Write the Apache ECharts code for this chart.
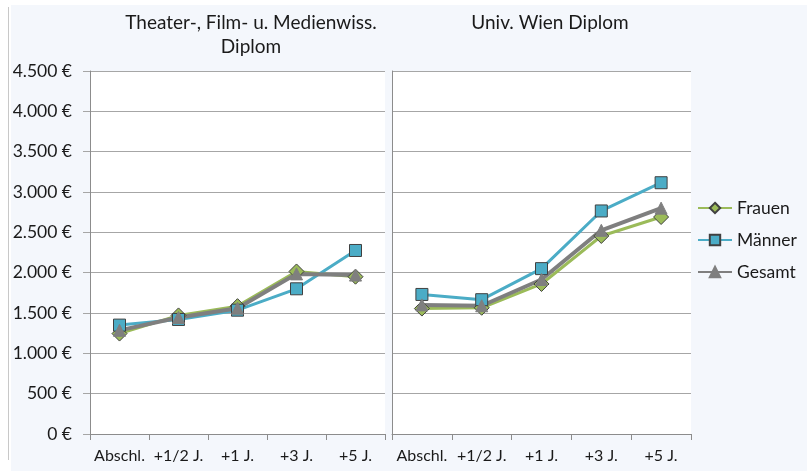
<!DOCTYPE html>
<html>
<head>
<meta charset="utf-8">
<script src="https://cdn.jsdelivr.net/npm/echarts@6/dist/echarts.min.js"></script>
<style>
  html, body { margin: 0; padding: 0; background: #ffffff; }
  #wrap { position: relative; width: 807px; height: 471px; overflow: hidden; }
  #bg { position: absolute; left: 11px; top: 5px; right: 0; bottom: 0; background: #F4F7FC; }
  #edge { position: absolute; left: 8px; top: 7px; width: 1px; height: 453px; background: #C8C8C8; }
  #chart { position: absolute; left: 0; top: 0; width: 807px; height: 471px; }
</style>
</head>
<body>
<div id="wrap">
  <div id="bg"></div>
  <div id="edge"></div>
  <div id="chart"></div>
</div>
<script>
const categories = ['Abschl.', '+1/2 J.', '+1 J.', '+3 J.', '+5 J.'];
const panelTitles = ['Theater-, Film- u. Medienwiss.\nDiplom', 'Univ. Wien Diplom'];
const seriesNames = ['Frauen', 'Männer', 'Gesamt'];

// Theater-, Film- u. Medienwiss. Diplom
const frauenTFM = [1245, 1470, 1585, 2015, 1950];
const maennerTFM = [1350, 1420, 1535, 1800, 2275];
const gesamtTFM = [1285, 1445, 1560, 1985, 1970];

// Univ. Wien Diplom
const frauenUW = [1555, 1565, 1860, 2455, 2690];
const maennerUW = [1730, 1665, 2050, 2765, 3115];
const gesamtUW = [1600, 1590, 1915, 2525, 2800];

const yMin = 0, yMax = 4500, yStep = 500;

const FONT = 'Lato, "Open Sans", sans-serif';
const TXT = '#1a1a1a';
const GRIDC = '#A6A6A6';
const AXC = '#8C8C8C';

function euro(v) {
  if (v >= 1000) {
    return Math.floor(v / 1000) + '.' + String(v % 1000).padStart(3, '0') + ' €';
  }
  return v + ' €';
}

const styles = {
  'Frauen': { color: '#9BBB59', symbol: 'diamond', size: 15, width: 3, border: '#404040' },
  'Männer': { color: '#4BACC6', symbol: 'rect', size: 12, width: 3, border: '#404040' },
  'Gesamt': { color: '#7F7F7F', symbol: 'triangle', size: 12, width: 4, border: '#7F7F7F' }
};

function mkSeries(name, data, idx) {
  const s = styles[name];
  return {
    name: name,
    type: 'line',
    xAxisIndex: idx,
    yAxisIndex: idx,
    data: data,
    symbol: s.symbol,
    symbolSize: s.size,
    lineStyle: { color: s.color, width: s.width },
    itemStyle: { color: s.color, borderColor: s.border, borderWidth: 1 },
    emphasis: { disabled: true },
    animation: false
  };
}

const chart = echarts.init(document.getElementById('chart'), null, { renderer: 'canvas' });

const xAxisBase = {
  type: 'category',
  data: categories,
  boundaryGap: true,
  axisLine: { show: true, lineStyle: { color: AXC, width: 1 } },
  axisTick: { show: true, length: 6, alignWithLabel: false, lineStyle: { color: AXC } },
  axisLabel: { color: TXT, fontFamily: FONT, fontSize: 16, margin: 14, interval: 0, hideOverlap: false },
  splitLine: { show: false }
};

const titleStyle = { fontFamily: FONT, fontSize: 19, fontWeight: 'normal', color: TXT, lineHeight: 24 };

const option = {
  backgroundColor: 'transparent',
  animation: false,
  title: [
    { text: panelTitles[0], left: 251, top: 11, padding: 0, textAlign: 'center', textStyle: titleStyle },
    { text: panelTitles[1], left: 550, top: 11, padding: 0, textAlign: 'center', textStyle: titleStyle }
  ],
  legend: {
    data: seriesNames,
    orient: 'vertical',
    left: 697,
    top: 199,
    padding: 0,
    itemWidth: 34,
    itemHeight: 13,
    itemGap: 14,
    textStyle: { fontFamily: FONT, fontSize: 17.5, color: TXT },
    selectedMode: false
  },
  grid: [
    { left: 90, top: 71, width: 295, height: 363, show: true, backgroundColor: '#ffffff', borderWidth: 0 },
    { left: 392, top: 71, width: 299, height: 363, show: true, backgroundColor: '#ffffff', borderWidth: 0 }
  ],
  xAxis: [
    Object.assign({}, xAxisBase, { gridIndex: 0 }),
    Object.assign({}, xAxisBase, { gridIndex: 1 })
  ],
  yAxis: [
    {
      gridIndex: 0, type: 'value', min: yMin, max: yMax, interval: yStep,
      axisLine: { show: true, lineStyle: { color: AXC, width: 1 } },
      axisTick: { show: true, length: 7, lineStyle: { color: GRIDC } },
      axisLabel: { color: TXT, fontFamily: FONT, fontSize: 17.5, margin: 18, formatter: euro },
      splitLine: { show: true, lineStyle: { color: GRIDC, width: 1 } }
    },
    {
      gridIndex: 1, type: 'value', min: yMin, max: yMax, interval: yStep,
      axisLine: { show: true, lineStyle: { color: AXC, width: 1 } },
      axisTick: { show: false },
      axisLabel: { show: false },
      splitLine: { show: true, lineStyle: { color: GRIDC, width: 1 } }
    }
  ],
  series: [
    mkSeries('Frauen', frauenTFM, 0),
    mkSeries('Männer', maennerTFM, 0),
    mkSeries('Gesamt', gesamtTFM, 0),
    mkSeries('Frauen', frauenUW, 1),
    mkSeries('Männer', maennerUW, 1),
    mkSeries('Gesamt', gesamtUW, 1)
  ]
};

chart.setOption(option);
</script>
</body>
</html>
